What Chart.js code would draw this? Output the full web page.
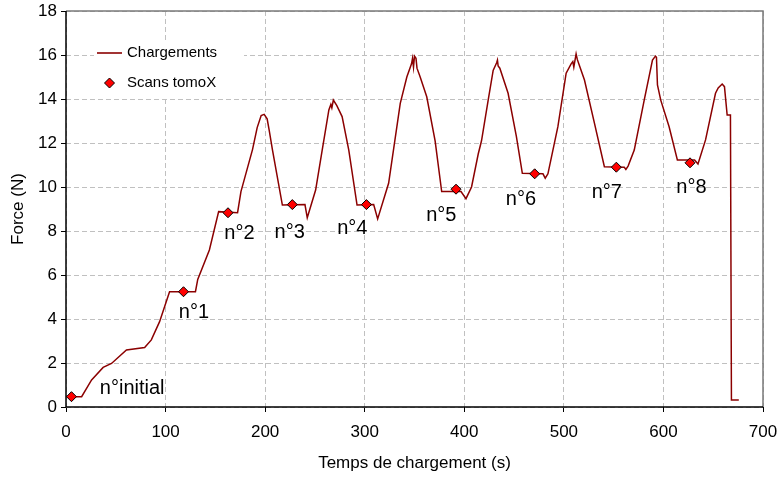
<!DOCTYPE html>
<html><head><meta charset="utf-8">
<script src="https://cdn.jsdelivr.net/npm/chart.js@4.4.0/dist/chart.umd.min.js"></script>
<style>html,body{margin:0;padding:0;background:#fff}#wrap{width:779px;height:477px}</style>
</head><body><div id="wrap"><canvas id="c" width="779" height="477"></canvas></div>
<script>
// ---- data ----
const timeS = [4,15.7,25.7,37.3,45.7,60.7,79,85.7,94,104,130,132.3,144,153.3,172.3,175.7,187.3,192,196,199,202,204,207.3,217.3,240,242.3,250.7,257.3,264,266,267,268.5,272,277.3,284,292.3,309,313,324,335.7,342.3,347,348,349,350,351.5,352.5,355.7,362.3,370.7,377.3,396.7,401.7,407.3,414,417.3,424,429,432.5,433.3,434,435.7,444,452.3,458.3,479,481.3,484,494,502.3,507.3,509,510,512.3,513.5,515,520.7,530.7,540.7,560.7,562.3,564.5,570.7,580.7,589,592,593,594,597.3,605.7,614,631.3,634.7,642.3,652.3,655,659,661.3,664,667.3,668.3,675.7];
const forceN = [0.47,0.47,1.23,1.8,1.98,2.59,2.7,3.05,3.88,5.24,5.24,5.8,7.14,8.88,8.83,9.79,11.7,12.7,13.25,13.3,13.1,12.6,11.7,9.18,9.2,8.6,9.86,11.68,13.5,13.75,13.6,13.95,13.7,13.2,11.68,9.18,9.2,8.55,10.17,13.8,15.0,15.6,15.85,15.45,15.95,15.85,15.4,15.0,14.1,12.1,9.79,9.79,9.47,10.0,11.5,12.1,13.95,15.3,15.65,15.77,15.5,15.4,14.26,12.3,10.62,10.6,10.4,10.6,12.74,15.17,15.6,15.7,15.45,16.05,15.8,15.6,14.86,12.9,10.92,10.9,10.8,10.95,11.68,13.95,15.77,15.95,15.9,14.64,13.95,12.74,11.23,11.23,11.05,12.14,14.26,14.5,14.68,14.56,13.27,13.27,0.32,0.32];
const scanTimes  = [5.5,118,162.7,227.3,301.7,391.7,470.7,552.7,626.7];
const scanForces = [0.47,5.24,8.83,9.2,9.2,9.9,10.6,10.9,11.1];
const scanLabels = ['n°initial','n°1','n°2','n°3','n°4','n°5','n°6','n°7','n°8'];
const labelTimes  = [34,113.3,159,209.5,272.3,361.7,441.7,528,613];
const labelForces = [0.85,4.3,7.9,7.95,8.12,8.7,9.45,9.75,9.97];
const xTicks = [0,100,200,300,400,500,600,700];
const yTicks = [0,2,4,6,8,10,12,14,16,18];
const seriesNames = ['Chargements','Scans tomoX'];
const xTitle = 'Temps de chargement (s)';
const yTitle = 'Force (N)';

const FONT = "'Liberation Sans', Arial, sans-serif";
const LINE_COLOR = '#8B0000';

const framePlugin = {
  id: 'frame',
  beforeDatasetsDraw(chart) {
    const {ctx, chartArea: a} = chart;
    ctx.save();
    ctx.lineWidth = 1.5;
    ctx.strokeStyle = '#7a7a7a';
    ctx.beginPath();
    ctx.moveTo(a.left, a.top); ctx.lineTo(a.right, a.top); ctx.lineTo(a.right, a.bottom);
    ctx.stroke();
    ctx.strokeStyle = '#000';
    ctx.beginPath();
    ctx.moveTo(a.left, a.top); ctx.lineTo(a.left, a.bottom); ctx.lineTo(a.right, a.bottom);
    ctx.stroke();
    ctx.restore();
  },
  afterDatasetsDraw(chart) {
    const {ctx, scales} = chart;
    ctx.save();
    // scan labels
    ctx.fillStyle = '#000';
    ctx.font = '20px ' + FONT;
    ctx.textAlign = 'left';
    ctx.textBaseline = 'middle';
    scanLabels.forEach((t, i) => {
      ctx.fillText(t, scales.x.getPixelForValue(labelTimes[i]), scales.y.getPixelForValue(labelForces[i]));
    });
    // legend
    ctx.fillStyle = '#fff';
    ctx.fillRect(94, 43, 150, 54);
    ctx.strokeStyle = LINE_COLOR;
    ctx.lineWidth = 1.6;
    ctx.beginPath(); ctx.moveTo(97, 53); ctx.lineTo(122, 53); ctx.stroke();
    ctx.beginPath();
    ctx.moveTo(104.5, 83); ctx.lineTo(109.5, 78); ctx.lineTo(114.5, 83); ctx.lineTo(109.5, 88); ctx.closePath();
    ctx.fillStyle = '#ff0000'; ctx.fill();
    ctx.strokeStyle = '#000'; ctx.lineWidth = 1; ctx.stroke();
    ctx.fillStyle = '#000';
    ctx.font = '15px ' + FONT;
    ctx.fillText(seriesNames[0], 127, 53);
    ctx.fillText(seriesNames[1], 127, 83);
    ctx.restore();
  }
};

new Chart(document.getElementById('c'), {
  type: 'scatter',
  data: {
    datasets: [
      {
        label: seriesNames[1],
        data: scanTimes.map((x, i) => ({x, y: scanForces[i]})),
        pointStyle: 'rectRot',
        pointRadius: 5,
        pointBackgroundColor: '#ff0000',
        pointBorderColor: '#000',
        pointBorderWidth: 1,
        showLine: false,
        order: 0
      },
      {
        label: seriesNames[0],
        data: timeS.map((x, i) => ({x, y: forceN[i]})),
        showLine: true,
        borderColor: LINE_COLOR,
        borderWidth: 1.5,
        pointRadius: 0,
        tension: 0,
        fill: false,
        order: 1
      }
    ]
  },
  options: {
    responsive: false,
    animation: false,
    devicePixelRatio: 1,
    layout: {padding: {top: 11, right: 16, left: 0, bottom: 0}},
    plugins: {legend: {display: false}, tooltip: {enabled: false}},
    scales: {
      x: {
        type: 'linear', min: 0, max: 700,
        afterBuildTicks: s => { s.ticks = xTicks.map(v => ({value: v})); },
        afterFit: s => { s.height = 70; s.paddingLeft = 0; s.paddingRight = 0; },
        grid: {color: '#c0c0c0', lineWidth: 1, tickLength: 5, tickColor: '#000', tickWidth: 1},
        border: {display: false, dash: [5, 3]},
        ticks: {color: '#000', font: {family: FONT, size: 17}, padding: 10, maxRotation: 0},
        title: {display: true, text: xTitle, color: '#000', font: {family: FONT, size: 17}, padding: {top: 0, bottom: 3}}
      },
      y: {
        type: 'linear', min: 0, max: 18,
        afterBuildTicks: s => { s.ticks = yTicks.map(v => ({value: v})); },
        afterFit: s => { s.width = 66; s.paddingTop = 0; s.paddingBottom = 0; },
        grid: {color: '#c0c0c0', lineWidth: 1, tickLength: 5, tickColor: '#000', tickWidth: 1},
        border: {display: false, dash: [5, 3]},
        ticks: {color: '#000', font: {family: FONT, size: 17}, padding: 4},
        title: {display: true, text: yTitle, color: '#000', font: {family: FONT, size: 17}, padding: {top: 8, bottom: 0}}
      }
    }
  },
  plugins: [framePlugin]
});
</script>
</body></html>
